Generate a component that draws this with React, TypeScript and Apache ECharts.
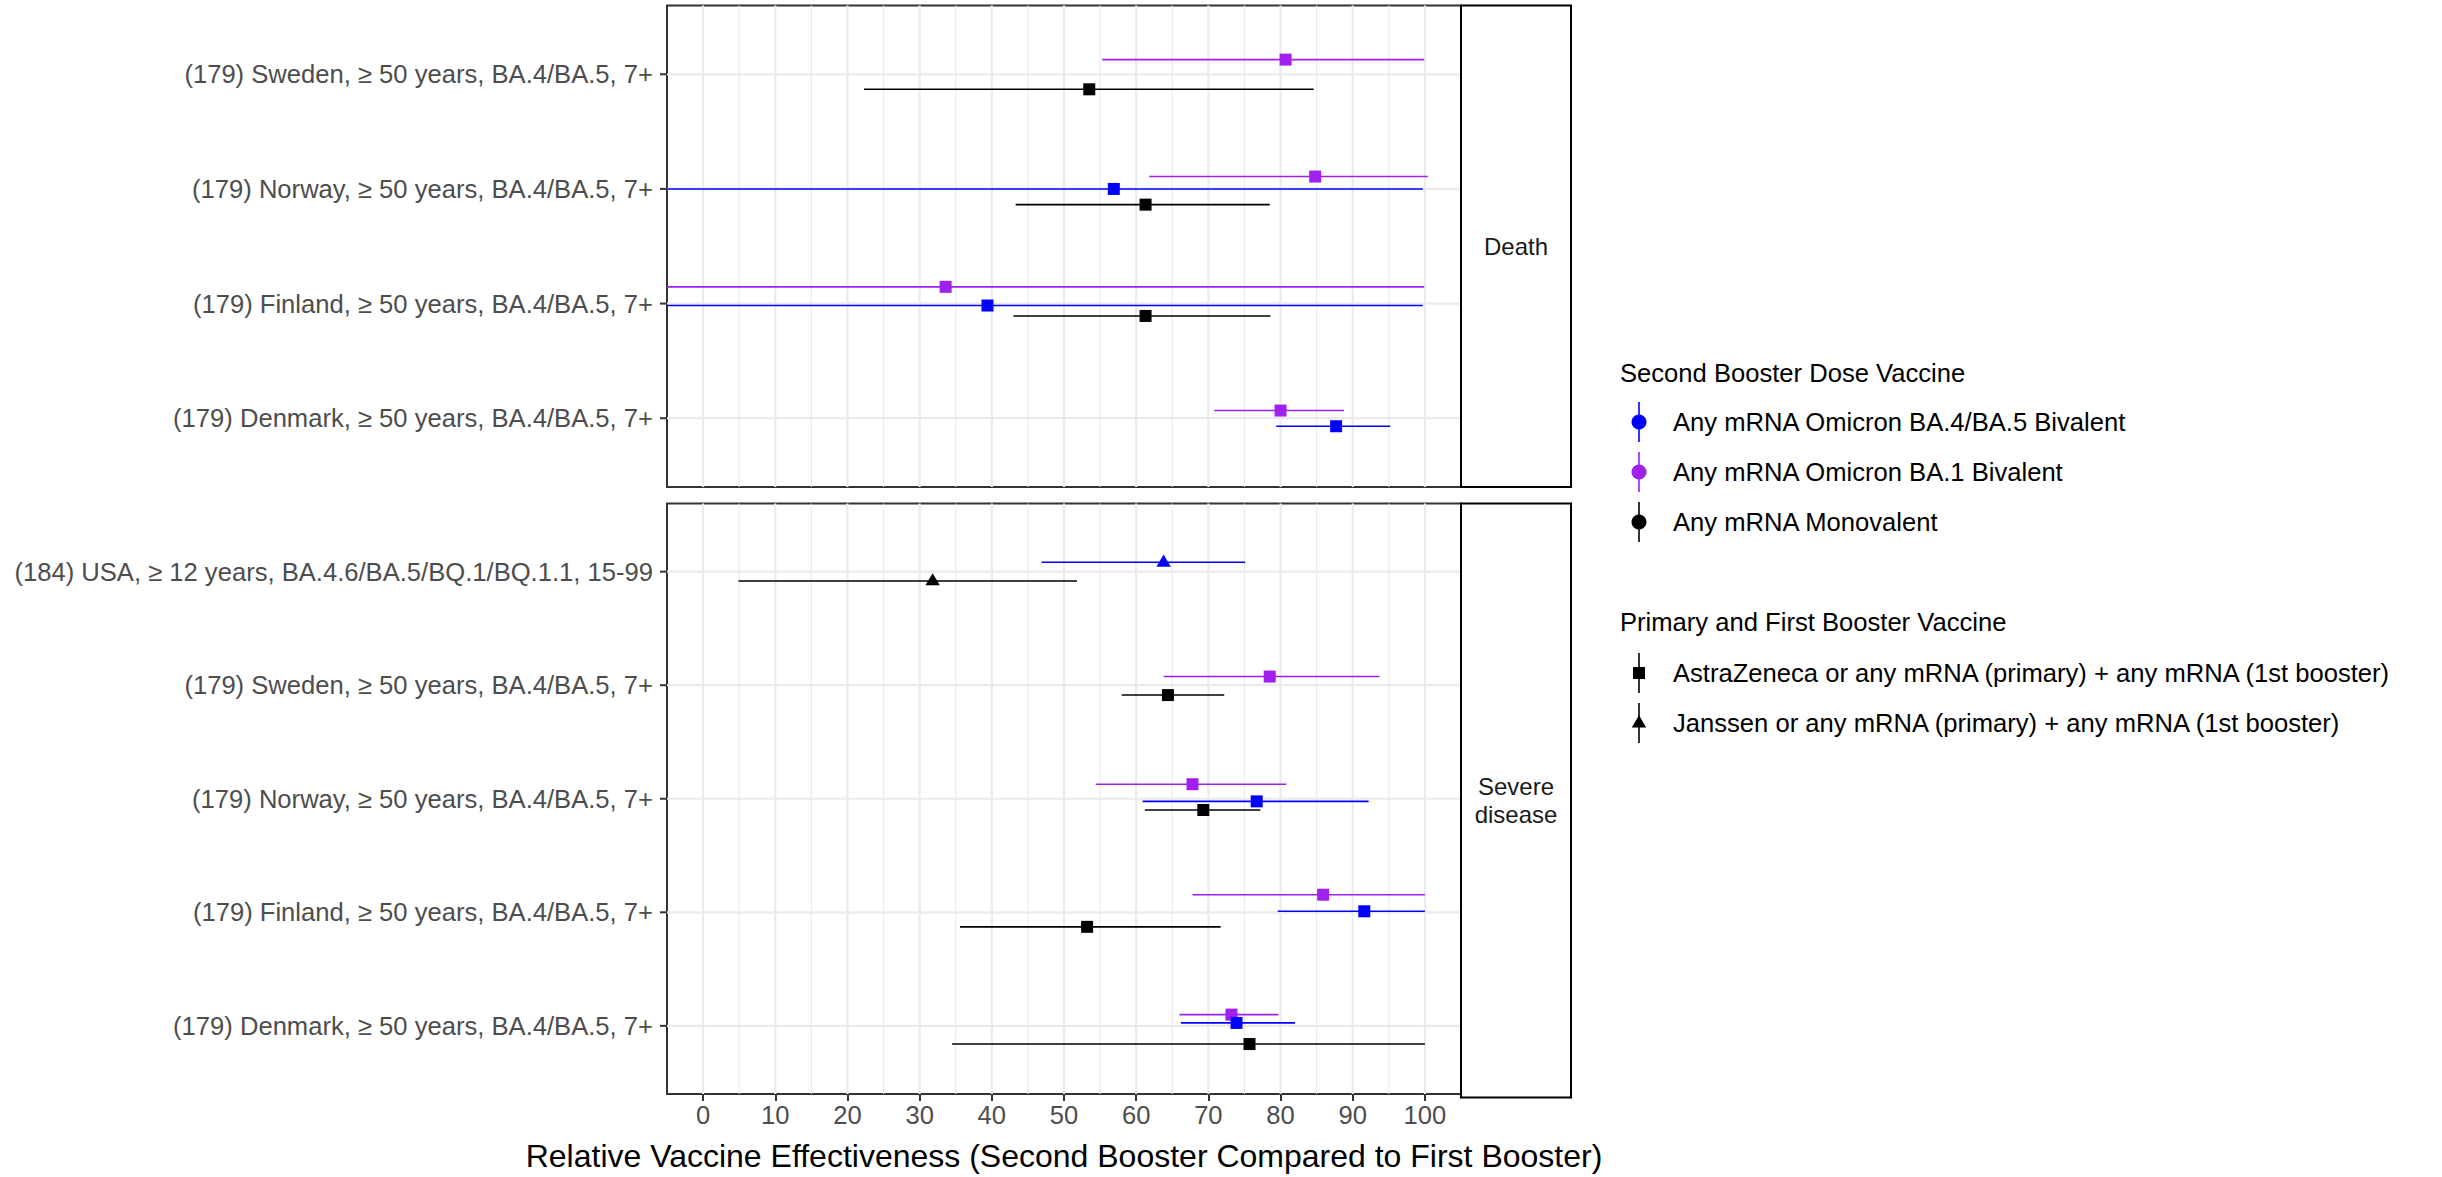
import React, { useEffect, useRef } from "react";
import * as echarts from "echarts";

// ---------- categories ----------
const deathRows = [
  "(179) Denmark, ≥ 50 years, BA.4/BA.5, 7+",
  "(179) Finland, ≥ 50 years, BA.4/BA.5, 7+",
  "(179) Norway, ≥ 50 years, BA.4/BA.5, 7+",
  "(179) Sweden, ≥ 50 years, BA.4/BA.5, 7+",
];
const severeRows = [
  "(179) Denmark, ≥ 50 years, BA.4/BA.5, 7+",
  "(179) Finland, ≥ 50 years, BA.4/BA.5, 7+",
  "(179) Norway, ≥ 50 years, BA.4/BA.5, 7+",
  "(179) Sweden, ≥ 50 years, BA.4/BA.5, 7+",
  "(184) USA, ≥ 12 years, BA.4.6/BA.5/BQ.1/BQ.1.1, 15-99",
];
const panelNames = ["Death", "Severe\ndisease"];
const secondBoosterTitle = "Second Booster Dose Vaccine";
const secondBoosterNames = [
  "Any mRNA Omicron BA.4/BA.5 Bivalent",
  "Any mRNA Omicron BA.1 Bivalent",
  "Any mRNA Monovalent",
];
const primaryTitle = "Primary and First Booster Vaccine";
const primaryNames = [
  "AstraZeneca or any mRNA (primary) + any mRNA (1st booster)",
  "Janssen or any mRNA (primary) + any mRNA (1st booster)",
];
const xTitle = "Relative Vaccine Effectiveness (Second Booster Compared to First Booster)";
const xTicks = [0, 10, 20, 30, 40, 50, 60, 70, 80, 90, 100];
const xMinor = [5, 15, 25, 35, 45, 55, 65, 75, 85, 95];

// ---------- values ----------
// [row (1 = bottom), estimate, lower, upper, dodge (row units), primary vaccine index]
const deathBA45 = [
  [3, 56.9, -100, 99.7, 0, 0],
  [2, 39.4, -100, 99.7, -0.017, 0],
  [1, 87.7, 79.4, 95.2, -0.07, 0],
];
const deathBA1 = [
  [4, 80.7, 55.3, 99.9, 0.128, 0],
  [3, 84.8, 61.8, 100.4, 0.108, 0],
  [2, 33.6, -100, 99.9, 0.146, 0],
  [1, 80.0, 70.8, 88.8, 0.067, 0],
];
const deathMono = [
  [4, 53.5, 22.3, 84.6, -0.131, 0],
  [3, 61.3, 43.3, 78.5, -0.137, 0],
  [2, 61.3, 43.0, 78.6, -0.108, 0],
];
const severeBA45 = [
  [5, 63.8, 46.9, 75.1, 0.082, 1],
  [3, 76.7, 60.9, 92.2, -0.023, 0],
  [2, 91.6, 79.6, 100, 0.009, 0],
  [1, 73.9, 66.2, 82.0, 0.026, 0],
];
const severeBA1 = [
  [4, 78.5, 63.8, 93.7, 0.076, 0],
  [3, 67.8, 54.4, 80.8, 0.128, 0],
  [2, 85.9, 67.8, 100, 0.155, 0],
  [1, 73.2, 66.0, 79.7, 0.099, 0],
];
const severeMono = [
  [5, 31.8, 4.9, 51.8, -0.082, 1],
  [4, 64.4, 58.0, 72.2, -0.087, 0],
  [3, 69.3, 61.2, 77.2, -0.099, 0],
  [2, 53.2, 35.6, 71.7, -0.128, 0],
  [1, 75.7, 34.5, 100, -0.16, 0],
];

// ---------- styles ----------
const colors = ["#0000FF", "#A020F0", "#000000"];
const FONT = "'Liberation Sans', Arial, Helvetica, sans-serif";
const X_MIN = -5;
const X_MAX = 105;
const MARK = 12;
const TICK_LEN = 7;

const grids = [
  { left: 667, top: 5.5, width: 794, height: 481.5 },
  { left: 667, top: 503.5, width: 794, height: 594 },
];
const STRIP_W = 110;

function markerShape(prim: number, p: number[], color: string) {
  if (prim === 1) {
    return {
      type: "polygon",
      shape: {
        points: [
          [p[0], p[1] - 7.8],
          [p[0] - 7.2, p[1] + 4.4],
          [p[0] + 7.2, p[1] + 4.4],
        ],
      },
      style: { fill: color },
    };
  }
  return {
    type: "rect",
    shape: { x: p[0] - MARK / 2, y: p[1] - MARK / 2, width: MARK, height: MARK },
    style: { fill: color },
  };
}

function forestSeries(name: string, data: number[][], colorIdx: number, panel: number) {
  const color = colors[colorIdx];
  return {
    type: "custom",
    name,
    xAxisIndex: panel,
    yAxisIndex: panel,
    z: 3,
    silent: true,
    encode: { x: [1, 2, 3], y: 0 },
    data: data.map((d) => [d[0] + d[4], d[1], d[2], d[3], d[5]]),
    renderItem: (params: any, api: any) => {
      const y = api.value(0);
      const est = api.value(1);
      const lo = Math.max(api.value(2), X_MIN);
      const hi = Math.min(api.value(3), X_MAX);
      const prim = api.value(4);
      const a = api.coord([lo, y]);
      const b = api.coord([hi, y]);
      const p = api.coord([est, y]);
      return {
        type: "group",
        children: [
          {
            type: "line",
            shape: { x1: a[0], y1: a[1], x2: b[0], y2: b[1] },
            style: { stroke: color, lineWidth: 1.6 },
          },
          markerShape(prim, p, color),
        ],
      };
    },
  };
}

function vGridSeries(values: number[], panel: number, width: number) {
  return {
    type: "custom",
    xAxisIndex: panel,
    yAxisIndex: panel,
    z: 1,
    silent: true,
    encode: { x: 0, y: 1 },
    data: values.map((v) => [v, 1]),
    renderItem: (params: any, api: any) => {
      const cs = params.coordSys;
      const x = api.coord([api.value(0), api.value(1)])[0];
      return {
        type: "line",
        shape: { x1: x, y1: cs.y, x2: x, y2: cs.y + cs.height },
        style: { stroke: "#EBEBEB", lineWidth: width },
      };
    },
  };
}

// horizontal major grid lines plus the y-axis tick marks
function hGridSeries(rows: string[], panel: number) {
  return {
    type: "custom",
    xAxisIndex: panel,
    yAxisIndex: panel,
    z: 1,
    silent: true,
    encode: { x: 0, y: 1 },
    data: rows.map((_, i) => [0, i + 1]),
    renderItem: (params: any, api: any) => {
      const cs = params.coordSys;
      const y = api.coord([api.value(0), api.value(1)])[1];
      return {
        type: "group",
        children: [
          {
            type: "line",
            shape: { x1: cs.x, y1: y, x2: cs.x + cs.width, y2: y },
            style: { stroke: "#EBEBEB", lineWidth: 2.2 },
          },
          {
            type: "line",
            shape: { x1: cs.x - TICK_LEN, y1: y, x2: cs.x, y2: y },
            style: { stroke: "#333333", lineWidth: 2 },
          },
        ],
      };
    },
  };
}

function yAxis(rows: string[], panel: number) {
  const vals = rows.map((_, i) => i + 1);
  return {
    type: "value",
    gridIndex: panel,
    min: 0.4,
    max: rows.length + 0.6,
    axisLine: { show: false },
    splitLine: { show: false },
    axisTick: { show: false },
    axisLabel: {
      customValues: vals,
      formatter: (v: number) => rows[Math.round(v) - 1] || "",
      color: "#4D4D4D",
      fontSize: 25.6,
      fontFamily: FONT,
      margin: 14,
    },
  };
}

function buildGraphics() {
  const g: any[] = [];
  // strips
  grids.forEach((gr, i) => {
    const x = gr.left + gr.width;
    g.push({
      type: "rect",
      shape: { x, y: gr.top, width: STRIP_W, height: gr.height },
      style: { fill: "#FFFFFF", stroke: "#000000", lineWidth: 2 },
      z: 10,
    });
    g.push({
      type: "text",
      x: x + STRIP_W / 2,
      y: gr.top + gr.height / 2,
      style: {
        text: panelNames[i],
        fontSize: 24,
        fontFamily: FONT,
        fill: "#1A1A1A",
        align: "center",
        verticalAlign: "middle",
        lineHeight: 28,
      },
      z: 11,
    });
  });
  // legend 1
  const lx = 1620;
  const keyX = 1639;
  const textX = 1673;
  g.push({
    type: "text",
    x: lx,
    y: 373,
    style: { text: secondBoosterTitle, fontSize: 25.6, fontFamily: FONT, fill: "#000", verticalAlign: "middle" },
  });
  secondBoosterNames.forEach((name, i) => {
    const y = 422 + i * 50;
    g.push({ type: "line", shape: { x1: keyX, y1: y - 20, x2: keyX, y2: y + 20 }, style: { stroke: colors[i], lineWidth: 1.6 } });
    g.push({ type: "circle", shape: { cx: keyX, cy: y, r: 7.5 }, style: { fill: colors[i] } });
    g.push({
      type: "text",
      x: textX,
      y,
      style: { text: name, fontSize: 25.6, fontFamily: FONT, fill: "#000", verticalAlign: "middle" },
    });
  });
  // legend 2
  g.push({
    type: "text",
    x: lx,
    y: 622,
    style: { text: primaryTitle, fontSize: 25.6, fontFamily: FONT, fill: "#000", verticalAlign: "middle" },
  });
  primaryNames.forEach((name, i) => {
    const y = 673 + i * 50;
    g.push({ type: "line", shape: { x1: keyX, y1: y - 20, x2: keyX, y2: y + 20 }, style: { stroke: "#000", lineWidth: 1.6 } });
    const m: any = markerShape(i, [keyX, y], "#000");
    g.push(m);
    g.push({
      type: "text",
      x: textX,
      y,
      style: { text: name, fontSize: 25.6, fontFamily: FONT, fill: "#000", verticalAlign: "middle" },
    });
  });
  return g;
}

const option: any = {
  animation: false,
  backgroundColor: "#FFFFFF",
  textStyle: { fontFamily: FONT },
  grid: grids.map((g) => ({
    ...g,
    show: true,
    backgroundColor: "#FFFFFF",
    borderColor: "#333333",
    borderWidth: 2,
    containLabel: false,
  })),
  xAxis: [
    {
      type: "value",
      gridIndex: 0,
      min: X_MIN,
      max: X_MAX,
      axisLine: { show: false },
      axisTick: { show: false },
      axisLabel: { show: false },
      splitLine: { show: false },
    },
    {
      type: "value",
      gridIndex: 1,
      min: X_MIN,
      max: X_MAX,
      axisLine: { show: false },
      splitLine: { show: false },
      axisTick: { show: true, customValues: xTicks, length: TICK_LEN, lineStyle: { color: "#333333", width: 2 } },
      axisLabel: { customValues: xTicks, color: "#4D4D4D", fontSize: 25.6, fontFamily: FONT, margin: 8 },
      name: xTitle,
      nameLocation: "middle",
      nameGap: 46,
      nameTextStyle: { fontSize: 32, color: "#000000", fontFamily: FONT },
    },
  ],
  yAxis: [yAxis(deathRows, 0), yAxis(severeRows, 1)],
  series: [
    vGridSeries(xMinor, 0, 1.1),
    vGridSeries(xTicks, 0, 2.2),
    hGridSeries(deathRows, 0),
    vGridSeries(xMinor, 1, 1.1),
    vGridSeries(xTicks, 1, 2.2),
    hGridSeries(severeRows, 1),
    forestSeries(secondBoosterNames[1], deathBA1, 1, 0),
    forestSeries(secondBoosterNames[0], deathBA45, 0, 0),
    forestSeries(secondBoosterNames[2], deathMono, 2, 0),
    forestSeries(secondBoosterNames[1], severeBA1, 1, 1),
    forestSeries(secondBoosterNames[0], severeBA45, 0, 1),
    forestSeries(secondBoosterNames[2], severeMono, 2, 1),
  ],
  graphic: buildGraphics(),
};

export default function App() {
  const ref = useRef<HTMLDivElement>(null);
  useEffect(() => {
    const chart = echarts.init(ref.current as HTMLDivElement, null, { renderer: "svg" });
    chart.setOption(option);
    return () => chart.dispose();
  }, []);
  return (
    <div
      ref={ref}
      style={{ position: "fixed", left: 0, top: 0, width: 2442, height: 1177, background: "#FFFFFF" }}
    />
  );
}
